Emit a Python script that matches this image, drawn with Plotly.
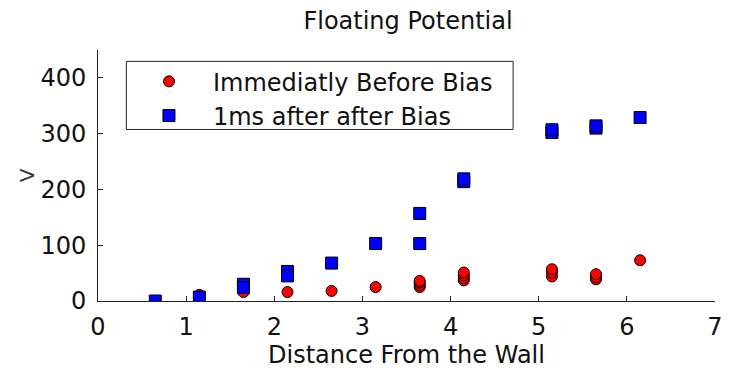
import plotly.graph_objects as go

# Floating potential measured at each probe position (distance from the wall)
before_x = [0.65, 1.15, 1.65, 2.15, 2.65, 3.15,
            3.65, 3.65, 3.65, 3.65,
            4.15, 4.15, 4.15, 4.15,
            5.15, 5.15, 5.15,
            5.65, 5.65, 5.65,
            6.15]
before_v = [0, 11, 16, 16, 18, 25,
            25, 29, 33, 36,
            37, 41, 46, 51,
            44, 51, 57,
            39, 43, 48,
            73]

after_x = [0.65, 1.15, 1.65, 1.65, 2.15, 2.15, 2.65, 3.15,
           3.65, 3.65, 4.15, 4.15, 5.15, 5.15, 5.65, 5.65, 6.15]
after_v = [0, 7, 30, 24, 53, 45, 68, 103,
           103, 157, 214, 219, 302, 307, 310, 314, 329]

x_ticks = [0, 1, 2, 3, 4, 5, 6, 7]
y_ticks = [0, 100, 200, 300, 400]

FONT = "DejaVu Sans"

fig = go.Figure()
fig.add_trace(go.Scatter(
    x=before_x, y=before_v, mode="markers",
    name="Immediatly Before Bias",
    marker=dict(symbol="circle", size=11, color="#ff0000",
                line=dict(color="#000000", width=1)),
))
fig.add_trace(go.Scatter(
    x=after_x, y=after_v, mode="markers",
    name="1ms after after Bias",
    marker=dict(symbol="square", size=12, color="#0000ff",
                line=dict(color="#000000", width=1)),
))

axis_common = dict(
    showline=True, linecolor="#222222", linewidth=1,
    ticks="inside", ticklen=5, tickcolor="#222222", tickwidth=1,
    showgrid=False, zeroline=False, mirror=False,
    tickfont=dict(family=FONT, size=24, color="#111111"),
)

fig.update_layout(
    width=732, height=373,
    margin=dict(l=98, r=9, t=50, b=65),
    paper_bgcolor="white", plot_bgcolor="white",
    font=dict(family=FONT, color="#111111"),
    title=dict(text="Floating Potential", x=408 / 732, xanchor="center",
               y=1 - 21 / 373, yanchor="middle",
               font=dict(family=FONT, size=24, color="#111111")),
    xaxis=dict(range=[0, 7], tickvals=x_ticks, ticklabelstandoff=4,
               title=dict(text="Distance From the Wall", standoff=6,
                          font=dict(family=FONT, size=24, color="#111111")),
               **axis_common),
    yaxis=dict(range=[0, 450], tickvals=y_ticks, ticklabelstandoff=6,
               title=dict(text="V", standoff=0,
                          font=dict(family=FONT, size=20, color="#333333")),
               **axis_common),
    showlegend=True,
    legend=dict(x=(125.3 - 98) / 624.7, y=(308 - 59.5) / 258,
                xanchor="left", yanchor="top",
                itemwidth=78, bgcolor="rgba(0,0,0,0)", borderwidth=0,
                font=dict(family=FONT, size=24, color="#111111"),
                tracegroupgap=0),
    shapes=[dict(type="rect", xref="paper", yref="paper",
                 x0=(126.7 - 98) / 624.7, x1=(518.3 - 98) / 624.7,
                 y0=(308 - 131.7) / 258, y1=(308 - 61.7) / 258,
                 line=dict(color="#222222", width=1),
                 fillcolor="white", layer="below")],
)

fig.write_html("out.html")
